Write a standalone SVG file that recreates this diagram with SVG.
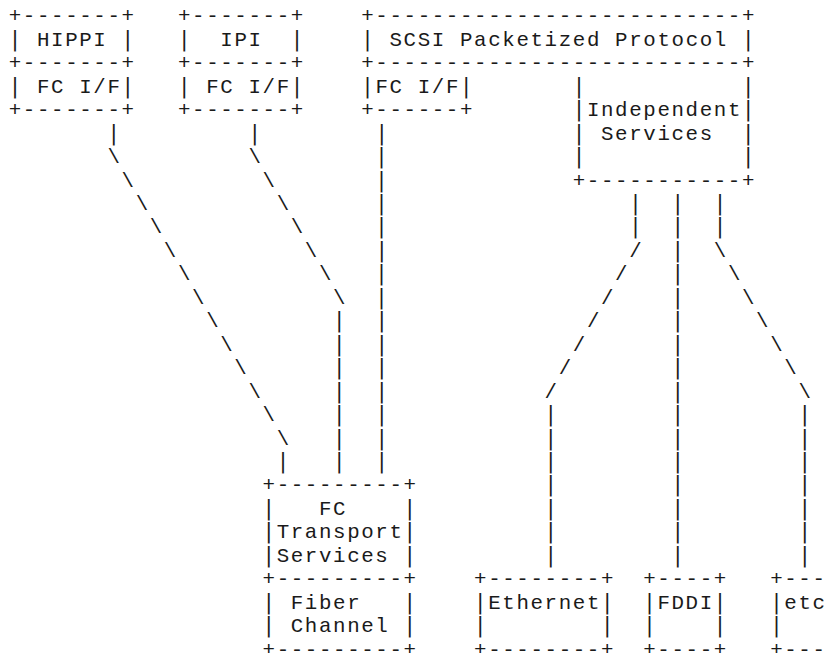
<svg xmlns="http://www.w3.org/2000/svg" width="828" height="653" viewBox="0 0 828 653">
<style>
text { font-family: "Liberation Mono", "DejaVu Sans Mono", monospace; font-size: 20.8px; letter-spacing: 1.62px; fill: #1a1a1a; white-space: pre; }
.b { font-family: "DejaVu Sans Mono", "Liberation Mono", monospace; letter-spacing: 1.58px; }
</style>
<rect width="828" height="653" fill="#fff"/>
<g id="diagram" xml:space="preserve">
<text x="8.76" y="22.4">+-------+   +-------+    +--------------------------+</text>
<text x="8.76" y="45.85"><tspan class="b">|</tspan> HIPPI <tspan class="b">|</tspan>   <tspan class="b">|</tspan>  IPI  <tspan class="b">|</tspan>    <tspan class="b">|</tspan> SCSI Packetized Protocol <tspan class="b">|</tspan></text>
<text x="8.76" y="69.3">+-------+   +-------+    +--------------------------+</text>
<text x="8.76" y="92.75"><tspan class="b">|</tspan> FC I/F<tspan class="b">|</tspan>   <tspan class="b">|</tspan> FC I/F<tspan class="b">|</tspan>    <tspan class="b">|</tspan>FC I/F<tspan class="b">|</tspan>       <tspan class="b">|</tspan>           <tspan class="b">|</tspan></text>
<text x="8.76" y="116.2">+-------+   +-------+    +------+       <tspan class="b">|</tspan>Independent<tspan class="b">|</tspan></text>
<text x="107.46" y="139.65"><tspan class="b">|</tspan>         <tspan class="b">|</tspan>        <tspan class="b">|</tspan>             <tspan class="b">|</tspan> Services  <tspan class="b">|</tspan></text>
<text x="107.46" y="163.1">\         \        <tspan class="b">|</tspan>             <tspan class="b">|</tspan>           <tspan class="b">|</tspan></text>
<text x="121.56" y="186.55">\         \       <tspan class="b">|</tspan>             +-----------+</text>
<text x="135.66" y="210">\         \      <tspan class="b">|</tspan>                 <tspan class="b">|</tspan>  <tspan class="b">|</tspan>  <tspan class="b">|</tspan></text>
<text x="149.76" y="233.45">\         \     <tspan class="b">|</tspan>                 <tspan class="b">|</tspan>  <tspan class="b">|</tspan>  <tspan class="b">|</tspan></text>
<text x="163.86" y="256.9">\         \    <tspan class="b">|</tspan>                 /  <tspan class="b">|</tspan>  \</text>
<text x="177.96" y="280.35">\         \   <tspan class="b">|</tspan>                /   <tspan class="b">|</tspan>   \</text>
<text x="192.06" y="303.8">\         \  <tspan class="b">|</tspan>               /    <tspan class="b">|</tspan>    \</text>
<text x="206.16" y="327.25">\        <tspan class="b">|</tspan>  <tspan class="b">|</tspan>              /     <tspan class="b">|</tspan>     \</text>
<text x="220.26" y="350.7">\       <tspan class="b">|</tspan>  <tspan class="b">|</tspan>             /      <tspan class="b">|</tspan>      \</text>
<text x="234.36" y="374.15">\      <tspan class="b">|</tspan>  <tspan class="b">|</tspan>            /       <tspan class="b">|</tspan>       \</text>
<text x="248.46" y="397.6">\     <tspan class="b">|</tspan>  <tspan class="b">|</tspan>           /        <tspan class="b">|</tspan>        \</text>
<text x="262.56" y="421.05">\    <tspan class="b">|</tspan>  <tspan class="b">|</tspan>           <tspan class="b">|</tspan>        <tspan class="b">|</tspan>        <tspan class="b">|</tspan></text>
<text x="276.66" y="444.5">\   <tspan class="b">|</tspan>  <tspan class="b">|</tspan>           <tspan class="b">|</tspan>        <tspan class="b">|</tspan>        <tspan class="b">|</tspan></text>
<text x="276.66" y="467.95"><tspan class="b">|</tspan>   <tspan class="b">|</tspan>  <tspan class="b">|</tspan>           <tspan class="b">|</tspan>        <tspan class="b">|</tspan>        <tspan class="b">|</tspan></text>
<text x="262.56" y="491.4">+---------+         <tspan class="b">|</tspan>        <tspan class="b">|</tspan>        <tspan class="b">|</tspan></text>
<text x="262.56" y="514.85"><tspan class="b">|</tspan>   FC    <tspan class="b">|</tspan>         <tspan class="b">|</tspan>        <tspan class="b">|</tspan>        <tspan class="b">|</tspan></text>
<text x="262.56" y="538.3"><tspan class="b">|</tspan>Transport<tspan class="b">|</tspan>         <tspan class="b">|</tspan>        <tspan class="b">|</tspan>        <tspan class="b">|</tspan></text>
<text x="262.56" y="561.75"><tspan class="b">|</tspan>Services <tspan class="b">|</tspan>         <tspan class="b">|</tspan>        <tspan class="b">|</tspan>        <tspan class="b">|</tspan></text>
<text x="262.56" y="585.2">+---------+    +--------+  +----+   +---</text>
<text x="262.56" y="608.65"><tspan class="b">|</tspan> Fiber   <tspan class="b">|</tspan>    <tspan class="b">|</tspan>Ethernet<tspan class="b">|</tspan>  <tspan class="b">|</tspan>FDDI<tspan class="b">|</tspan>   <tspan class="b">|</tspan>etc</text>
<text x="262.56" y="632.1"><tspan class="b">|</tspan> Channel <tspan class="b">|</tspan>    <tspan class="b">|</tspan>        <tspan class="b">|</tspan>  <tspan class="b">|</tspan>    <tspan class="b">|</tspan>   <tspan class="b">|</tspan></text>
<text x="262.56" y="655.55">+---------+    +--------+  +----+   +---</text>
</g>
</svg>
